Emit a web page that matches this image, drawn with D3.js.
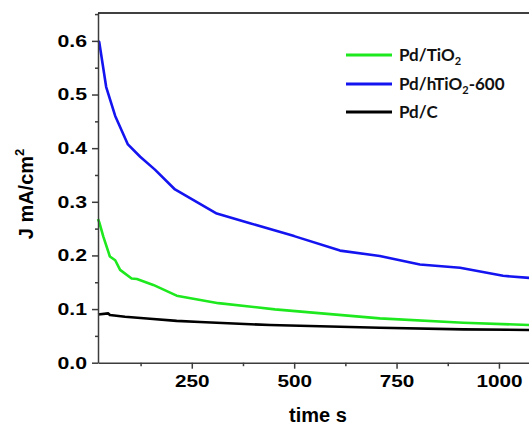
<!DOCTYPE html>
<html>
<head>
<meta charset="utf-8">
<script src="https://cdn.jsdelivr.net/npm/d3@7"></script>
<style>
  body { margin: 0; background: #fff; }
</style>
</head>
<body>
<script>
// time (s) and current density (mA/cm2)
var timeTiO2 = [21, 24, 34, 50, 63, 75, 103, 116, 156, 213, 315, 453, 709, 913, 1075];
var jTiO2 = [0.268, 0.262, 0.235, 0.198, 0.191, 0.173, 0.157, 0.156, 0.145, 0.125, 0.111, 0.0995, 0.0827, 0.0745, 0.0702];

var timeHTiO2 = [21, 24, 41, 63, 94, 124, 160, 209, 311, 392, 500, 612, 709, 807, 905, 1010, 1075];
var jHTiO2 = [0.600, 0.598, 0.514, 0.460, 0.407, 0.384, 0.360, 0.323, 0.278, 0.260, 0.236, 0.209, 0.199, 0.183, 0.177, 0.162, 0.158];

var timeC = [21, 46, 50, 87, 148, 213, 270, 441, 709, 913, 1075];
var jC = [0.090, 0.092, 0.089, 0.0857, 0.082, 0.078, 0.0758, 0.0702, 0.0652, 0.0622, 0.061];

var xTicks = [250, 500, 750, 1000];
var xMinor = [125, 375, 625, 875];
var yTicks = [0.0, 0.1, 0.2, 0.3, 0.4, 0.5, 0.6];
var yMinor = [0.05, 0.15, 0.25, 0.35, 0.45, 0.55, 0.65];

var seriesNames = ["Pd/TiO", "Pd/hTiO", "Pd/C"];
var seriesColors = ["#1ee81e", "#1414f0", "#000000"];

var svg = d3.select("body").append("svg").attr("width", 529).attr("height", 428);

var x = d3.scaleLinear().domain([21, 1100]).range([98, 539.9]);
var y = d3.scaleLinear().domain([0, 0.652]).range([362.7, 13]);

function drawAxes(){
  var gx = svg.append("g").attr("transform", "translate(0,362.7)")
    .call(d3.axisBottom(x).tickValues(xTicks).tickSize(6).tickPadding(6).tickFormat(d3.format("d")).tickSizeOuter(0));
  svg.append("g").attr("transform", "translate(0,362.7)")
    .call(d3.axisBottom(x).tickValues(xMinor).tickSize(3.5).tickFormat("").tickSizeOuter(0))
    .select(".domain").remove();

  var gy = svg.append("g").attr("transform", "translate(98,0)")
    .call(d3.axisLeft(y).tickValues(yTicks).tickSize(6).tickFormat(d3.format(".1f")).tickSizeOuter(0));
  svg.append("g").attr("transform", "translate(98,0)")
    .call(d3.axisLeft(y).tickValues(yMinor).tickSize(3).tickFormat("").tickSizeOuter(0))
    .select(".domain").remove();

  svg.selectAll(".domain, .tick line").attr("stroke", "#3c3c3c").attr("stroke-width", 1.5);

  // labels look a bit wide in the original, stretch them
  gx.selectAll("text")
    .attr("font-family", "Liberation Sans, Arial, sans-serif")
    .attr("font-weight", "bold").attr("font-size", 17).attr("fill", "#000")
    .attr("transform", "scale(1.22,1)");
  gy.selectAll("text")
    .attr("font-family", "Liberation Sans, Arial, sans-serif")
    .attr("font-weight", "bold").attr("font-size", 17).attr("fill", "#000")
    .attr("x", -11 / 1.25)
    .attr("transform", "scale(1.25,1)");

  // frame top + right (right one falls outside the picture)
  svg.append("line")
    .attr("x1", 98).attr("x2", 540).attr("y1", 13).attr("y2", 13)
    .attr("stroke", "#000").attr("stroke-width", 1.5);
  svg.append("line")
    .attr("x1", 540).attr("x2", 540).attr("y1", 13).attr("y2", 362.7)
    .attr("stroke", "#000").attr("stroke-width", 1.5);

  svg.append("text").text("time s")
    .attr("x", 318).attr("y", 422)
    .attr("text-anchor", "middle")
    .attr("font-family", "Liberation Sans, Arial, sans-serif")
    .attr("font-weight", "bold").attr("font-size", 20).attr("fill", "#000");

  var yt = svg.append("text")
    .attr("transform", "translate(33,194) rotate(-90)")
    .attr("text-anchor", "middle")
    .attr("font-family", "Liberation Sans, Arial, sans-serif")
    .attr("font-weight", "bold").attr("font-size", 20).attr("fill", "#000");
  yt.append("tspan").text("J mA/cm");
  yt.append("tspan").text("2").attr("font-size", 13).attr("dy", -9);
}

function drawSeries(times, vals, color){
  var pts = times.map(function(t, i){ return [t, vals[i]]; });
  var line = d3.line().x(function(d){ return x(d[0]); }).y(function(d){ return y(d[1]); });
  svg.append("path")
    .datum(pts)
    .attr("d", line)
    .attr("fill", "none")
    .attr("stroke", color)
    .attr("stroke-width", 2.6)
    .attr("stroke-linejoin", "round");
}

function drawLegend(){
  var ly = [55, 84, 112];
  var sub = ["2", "2", ""];
  var tail = ["", "-600", ""];
  for(var i = 0; i < seriesNames.length; i++){
    svg.append("line")
      .attr("x1", 346).attr("x2", 392).attr("y1", ly[i]).attr("y2", ly[i])
      .attr("stroke", seriesColors[i]).attr("stroke-width", 3);
    var t = svg.append("text")
      .attr("x", 399).attr("y", ly[i] + 6)
      .attr("font-family", "Lato, Open Sans, sans-serif")
      .attr("font-weight", "bold").attr("font-size", 17).attr("fill", "#111");
    t.append("tspan").text(seriesNames[i]);
    if(sub[i] != ""){
      t.append("tspan").text(sub[i]).attr("font-size", 11).attr("dy", 4);
      t.append("tspan").text(tail[i]).attr("dy", -4);
    }
  }
}

drawSeries(timeHTiO2, jHTiO2, seriesColors[1]);
drawSeries(timeTiO2, jTiO2, seriesColors[0]);
drawSeries(timeC, jC, seriesColors[2]);
drawAxes();
drawLegend();
</script>
</body>
</html>
